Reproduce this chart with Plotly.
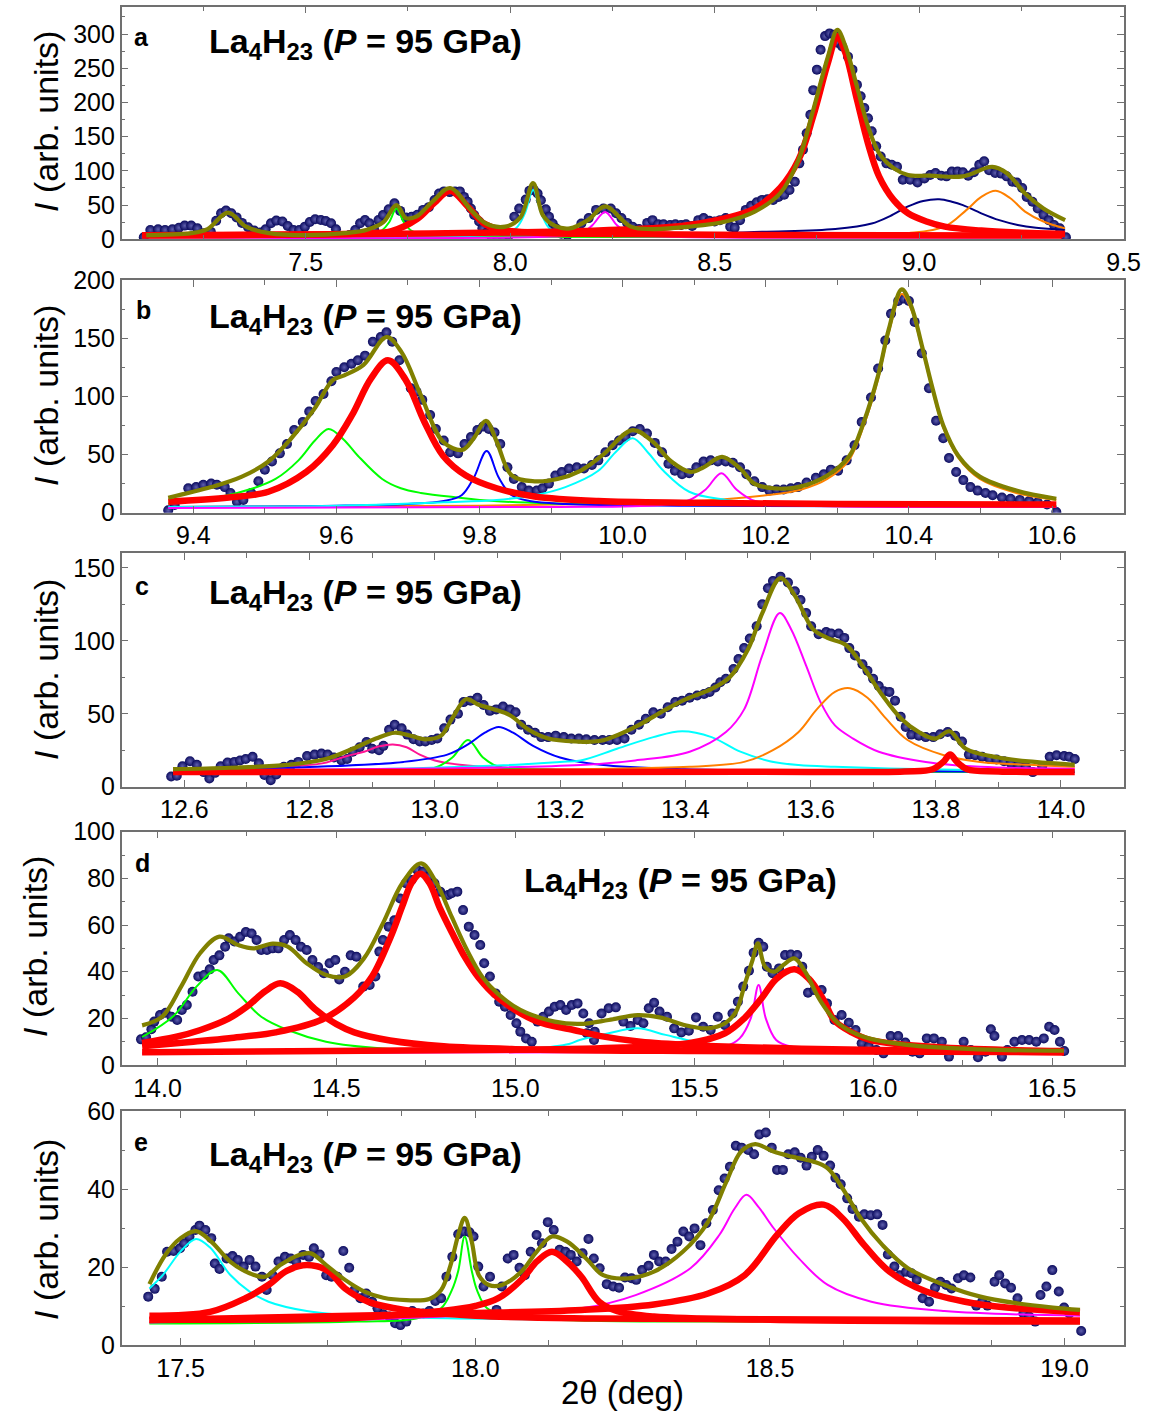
import plotly.graph_objects as go

W, H = 1150, 1416
FONT = "Liberation Sans, Arial, sans-serif"

# ---------------- panel a ----------------
a_pts = [(7.104,3),(7.120,13.7),(7.139,14.6),(7.156,13.7),(7.174,14.6),(7.190,17),(7.204,20),(7.220,20),(7.235,16),(7.251,9),
 (7.268,11),(7.281,27),(7.293,38),(7.305,42),(7.318,38),(7.331,32),(7.344,24),(7.359,17.6),(7.374,12.7),(7.389,9.8),
 (7.402,14.6),(7.415,23.4),(7.428,27.3),(7.443,26),(7.456,19.5),(7.470,13.7),(7.484,13.7),(7.498,18.5),(7.510,25.4),(7.523,29.3),
 (7.537,28.3),(7.549,26.8),(7.562,23.4),(7.574,14.6),(7.582,4),(7.594,3),(7.607,6.3),(7.621,13.7),(7.633,23.4),(7.645,28.3),
 (7.656,23.4),(7.667,14.6),(7.678,28.3),(7.689,35.6),(7.703,44),(7.717,52.7),(7.731,41.5),(7.745,32),(7.759,33),(7.773,36),
 (7.787,43),(7.801,47),(7.815,57.5),(7.826,67),(7.838,70),(7.852,69),(7.865,70),(7.877,70),(7.887,62),(7.896,55),
 (7.904,45),(7.912,35.6),(7.924,26),(7.932,16),(7.941,8.8),(7.955,3),(7.969,3),(7.983,3),(7.997,6),(8.010,33),
 (8.022,45),(8.038,58),(8.047,71),(8.058,72),(8.067,67),(8.075,57),(8.087,44),(8.095,33),(8.104,23),(8.112,16),
 (8.125,8),(8.140,6),(8.156,11),(8.174,23),(8.192,31),(8.210,43),(8.228,45),(8.246,45),(8.259,38),(8.272,31),
 (8.286,24),(8.299,18.5),(8.315,15),(8.335,24),(8.348,28),(8.362,22),(8.375,22),(8.391,21),(8.404,22),(8.418,21),
 (8.430,22),(8.445,19.5),(8.460,28),(8.473,31),(8.487,27),(8.500,26),(8.513,28),(8.527,31),(8.538,18.5),(8.549,17),
 (8.562,28),(8.576,43),(8.589,49),(8.603,54),(8.616,57.6),(8.629,58.5),(8.643,57.6),(8.656,62),(8.670,65),(8.683,72),
 (8.696,84),(8.707,111),(8.716,131),(8.725,155),(8.734,182),(8.741,218),(8.750,248),(8.759,277),(8.770,297),(8.781,301),
 (8.792,299),(8.802,287),(8.812,282),(8.826,267),(8.837,248),(8.848,226),(8.857,209),(8.866,192),(8.875,177),(8.884,158),
 (8.895,136),(8.906,121),(8.920,111),(8.933,109),(8.946,106),(8.960,87),(8.978,87),(8.996,83),(9.013,89),(9.027,94),
 (9.040,97),(9.054,93),(9.067,92),(9.080,99),(9.094,99),(9.107,98),(9.120,93),(9.134,98),(9.147,109),(9.159,114),
 (9.171,101),(9.186,97),(9.201,96),(9.214,92),(9.228,84),(9.239,83),(9.252,75),(9.263,62),(9.277,55),(9.290,45),
 (9.304,36),(9.317,28),(9.330,21),(9.344,16),(9.359,3)]
a_fit = [(7.11,6),(7.22,9),(7.26,15),(7.31,39),(7.354,18.5),(7.41,9),(7.503,6),(7.596,9),(7.65,14),(7.69,25),(7.722,50),
 (7.745,31),(7.77,33),(7.81,55),(7.853,75),(7.904,43),(7.941,23),(7.988,18.5),(8.025,32),(8.056,82),(8.08,35),(8.11,19.5),
 (8.146,16),(8.19,28),(8.232,48),(8.295,18.5),(8.348,15),(8.4375,18.5),(8.527,26),(8.598,40.5),(8.66,67),(8.705,116),
 (8.741,189),(8.777,267),(8.8,306),(8.82,282),(8.848,223),(8.875,165),(8.902,126),(8.9375,104),(8.973,94),(9.027,93),
 (9.107,92),(9.179,106),(9.214,97),(9.259,67),(9.304,45),(9.357,28)]
a_red1 = [(7.10,6),(7.5,7),(7.65,9),(7.71,12),(7.773,30),(7.814,53),(7.853,71),(7.896,48),(7.936,23),(7.977,14),(8.058,9.7),
 (8.173,8),(8.5,6.5),(9.35,5.5)]
a_red2 = [(7.10,6),(7.5,7),(7.8,8.5),(8.0,10),(8.17,12),(8.348,16),(8.4375,21),(8.527,31),(8.598,45),(8.66,75),(8.705,116),
 (8.741,180),(8.777,258),(8.8,297),(8.82,272),(8.848,204),(8.875,140),(8.902,92),(8.9375,57.6),(8.973,38),(9.018,26),
 (9.063,18.5),(9.152,12.7),(9.241,9.8),(9.357,7.8)]
a_green = [(7.10,4),(7.6,4.5),(7.67,6.5),(7.685,12),(7.704,25),(7.722,45),(7.74,25),(7.76,12),(7.8,6.5),(7.9,4.5),(9.35,4)]
a_cyan = [(7.10,4),(7.9,5),(7.98,8),(8.014,16),(8.036,38),(8.056,72),(8.076,38),(8.096,16),(8.13,8),(8.25,5),(9.35,4)]
a_magenta = [(7.10,3),(8.1,4),(8.17,8),(8.2,20),(8.232,40),(8.262,20),(8.29,9),(8.35,5),(9.35,3)]
a_navy = [(7.10,3),(8.0,5),(8.4,7),(8.616,11),(8.795,15),(8.884,23),(8.929,34),(8.973,48),(9.01,56),(9.049,58.5),(9.08,55),
 (9.107,50),(9.152,38),(9.196,28),(9.241,21),(9.286,17),(9.357,14)]
a_orange = [(7.10,3),(8.5,4.5),(8.795,6.3),(8.973,9),(9.0625,18.5),(9.116,43),(9.152,62),(9.1875,71),(9.223,60),(9.259,40.5),
 (9.304,26),(9.357,16)]

# ---------------- panel b ----------------
b_pts = [(9.365,2),(9.374,6.6),(9.393,21),(9.404,22),(9.414,24),(9.425,25),(9.433,24),(9.444,22),(9.452,17),(9.461,9.4),
 (9.470,11),(9.481,17),(9.491,27),(9.500,37),(9.510,44),(9.521,51),(9.531,59),(9.541,71),(9.553,78),(9.562,87),
 (9.571,96),(9.582,102),(9.593,113),(9.600,121),(9.611,125),(9.621,128),(9.630,131),(9.640,135),(9.651,147),(9.662,151),
 (9.670,155),(9.678,147),(9.688,131),(9.704,107),(9.712,104),(9.720,97),(9.731,84),(9.739,72),(9.750,62),(9.759,52),
 (9.770,51),(9.779,59),(9.788,65),(9.797,71),(9.805,74),(9.813,72),(9.821,69),(9.829,59),(9.839,39),(9.848,29),
 (9.859,22),(9.869,19),(9.880,19),(9.888,21),(9.897,25),(9.906,32),(9.915,35),(9.925,38),(9.936,39),(9.946,38),
 (9.957,41),(9.966,45),(9.976,52),(9.986,58),(9.995,62),(10.004,65),(10.014,70),(10.024,72),(10.034,68),(10.045,60),
 (10.055,52),(10.064,42),(10.073,36),(10.083,33),(10.093,34),(10.103,39),(10.113,44),(10.123,45),(10.133,44),(10.144,44),
 (10.154,43),(10.164,39),(10.173,33),(10.184,27),(10.195,22),(10.205,19),(10.215,20),(10.225,20),(10.235,21),(10.245,22),
 (10.257,26),(10.270,30),(10.281,33),(10.291,37),(10.301,36),(10.313,45),(10.324,58),(10.334,78),(10.347,99),(10.357,124),
 (10.367,148),(10.375,171),(10.385,182),(10.393,184),(10.400,182),(10.408,164),(10.418,137),(10.428,107),(10.438,79),(10.448,64),
 (10.456,47),(10.466,35),(10.476,28),(10.486,22),(10.496,19),(10.507,17),(10.517,15),(10.530,13),(10.542,12),(10.555,11),
 (10.568,10),(10.580,9),(10.593,7),(10.606,0.5)]
b_fit = [(9.365,12.9),(9.425,22),(9.468,31),(9.505,44),(9.537,64),(9.569,89),(9.595,114),(9.611,118),(9.638,127),(9.67,151),
 (9.691,138),(9.718,101),(9.749,61),(9.776,54),(9.792,64),(9.809,79),(9.824,61),(9.845,32),(9.877,27),(9.909,29),(9.941,36),
 (9.971,49),(10.014,71),(10.042,61),(10.068,44),(10.095,35),(10.113,39),(10.139,48),(10.164,38),(10.184,25),(10.21,21),
 (10.245,22),(10.286,32),(10.316,48),(10.337,78),(10.357,118),(10.372,158),(10.39,192),(10.403,178),(10.418,144),
 (10.433,107),(10.448,75),(10.469,49),(10.499,31),(10.55,19),(10.606,12)]
b_red = [(9.365,9.4),(9.45,13),(9.505,18),(9.558,35),(9.595,58),(9.622,84),(9.648,115),(9.672,131),(9.696,115),(9.723,78),
 (9.749,49),(9.781,32),(9.824,21),(9.877,14),(9.966,10),(10.1,8.5),(10.3,7.5),(10.606,7)]
b_green = [(9.365,8),(9.44,14),(9.484,21),(9.515,29),(9.547,45),(9.57,62),(9.589,72),(9.61,63),(9.63,49),(9.664,29),(9.69,21),
 (9.718,17),(9.77,13),(9.82,10),(9.9,8),(10.1,6.5),(10.606,5.5)]
b_blue = [(9.365,5),(9.6,6),(9.7,7.5),(9.75,10),(9.775,15),(9.792,30),(9.81,53),(9.827,30),(9.845,15),(9.87,10),(9.92,7.5),
 (10.1,6),(10.606,5)]
b_cyan = [(9.365,5),(9.6,6),(9.75,9),(9.824,11),(9.877,15),(9.92,22),(9.966,36),(9.99,52),(10.014,64),(10.035,52),(10.057,36),
 (10.093,18),(10.144,11),(10.194,8),(10.3,6.5),(10.606,5.5)]
b_magenta = [(9.365,4),(9.9,5),(10.05,6.5),(10.09,10),(10.116,20),(10.138,34),(10.159,20),(10.185,10),(10.25,6.5),(10.606,5)]
b_orange = [(9.365,5),(9.8,6),(10.0,8),(10.1,10),(10.2,15),(10.25,20),(10.286,29),(10.316,45),(10.337,75),(10.357,115),
 (10.372,155),(10.39,188),(10.403,175),(10.418,142),(10.433,105),(10.448,73),(10.469,47),(10.499,29),(10.55,17),(10.606,11)]

# ---------------- panel c ----------------
c_pts = [(12.579,7),(12.588,7.5),(12.597,14),(12.609,17.5),(12.62,15),(12.631,10),(12.64,5.7),(12.649,9.5),(12.658,14),(12.669,16.6),
 (12.68,17),(12.689,18),(12.698,19),(12.709,20.5),(12.719,16),(12.728,8),(12.738,4.5),(12.747,8.4),(12.759,13.6),(12.771,15),
 (12.782,17),(12.796,21),(12.808,22),(12.819,22.7),(12.829,22),(12.839,20),(12.851,18),(12.86,19),(12.869,24),(12.88,27),
 (12.891,30.7),(12.9,26),(12.911,25),(12.918,28),(12.927,39),(12.936,42.5),(12.947,40),(12.956,35.7),(12.966,32.5),(12.976,31),
 (12.985,31),(12.995,32),(13.004,33),(13.015,40),(13.025,46),(13.037,50),(13.046,58),(13.057,59),(13.068,61),(13.078,56),
 (13.088,52),(13.098,53),(13.109,55),(13.12,53),(13.129,51),(13.138,42.5),(13.149,39),(13.16,37),(13.17,34),(13.181,34),
 (13.193,35),(13.206,34),(13.218,33),(13.23,33),(13.242,32.5),(13.255,32),(13.268,32),(13.279,32),(13.291,32),(13.303,33),
 (13.314,39),(13.326,42.5),(13.337,46.6),(13.349,51),(13.361,50),(13.372,54.5),(13.384,58),(13.395,59),(13.407,61),(13.419,62.5),
 (13.43,63.6),(13.439,65),(13.448,68),(13.456,71.6),(13.465,74),(13.477,80.7),(13.485,87.5),(13.494,95),(13.503,101.6),(13.514,110),
 (13.523,125),(13.532,136),(13.54,141),(13.552,144),(13.564,140),(13.575,134),(13.584,128),(13.593,119),(13.601,110),(13.613,104.5),
 (13.625,106),(13.633,105),(13.645,105),(13.654,102),(13.662,95),(13.671,90),(13.683,84),(13.691,79.5),(13.7,74),(13.709,69),
 (13.717,65.5),(13.726,65),(13.735,59),(13.744,48),(13.752,41),(13.761,35.7),(13.773,35),(13.784,34),(13.796,34),(13.807,36),
 (13.819,37.5),(13.831,35),(13.842,31),(13.853,22),(13.863,21.6),(13.874,20.5),(13.886,19),(13.897,18.6),(13.909,17.5),(13.92,16),
 (13.932,15),(13.944,13.6),(13.955,10),(13.97,14),(13.982,20.5),(13.993,21.6),(14.005,21),(14.013,20.5),(14.022,19)]
c_fit = [(12.582,12),(12.673,13),(12.765,15),(12.826,19),(12.869,26),(12.906,33),(12.936,37),(12.961,35),(12.985,32.5),
 (13.01,35),(13.028,47),(13.05,60),(13.071,56),(13.095,53),(13.12,49),(13.15,39),(13.181,33),(13.224,31),(13.265,31.5),
 (13.32,41),(13.361,51),(13.401,60),(13.442,67),(13.471,75),(13.5,94),(13.523,119),(13.552,143),(13.575,131),(13.604,108),
 (13.627,102),(13.657,97),(13.686,81),(13.715,62.5),(13.744,47),(13.773,37.5),(13.799,33),(13.822,38),(13.848,26),(13.9,20),
 (13.958,17),(14.022,15)]
c_red = [(12.582,10),(13.0,10),(13.5,10.2),(13.75,10.5),(13.795,12),(13.812,17),(13.823,22),(13.834,17),(13.85,12),(13.9,10.5),
 (14.022,10)]
c_pink = [(12.582,12),(12.75,13.5),(12.82,16),(12.86,21),(12.887,24),(12.91,27.5),(12.933,29),(12.955,27),(12.976,22),(13.0,18),
 (13.04,15),(13.1,13),(13.2,12),(13.5,11),(14.022,10.5)]
c_green = [(12.582,10),(12.9,11),(13.0,13),(13.028,20),(13.053,32),(13.077,20),(13.1,14),(13.2,11.5),(13.5,10.5),(14.022,10)]
c_blue = [(12.582,11),(12.8,13.5),(12.95,17),(13.02,22),(13.053,29),(13.08,37),(13.102,41),(13.125,37),(13.157,28),(13.2,20),
 (13.265,15),(13.4,12),(13.6,11),(14.022,10)]
c_cyan = [(12.582,11),(12.9,12),(13.1,14.5),(13.2,17),(13.233,18),(13.291,26),(13.349,34),(13.395,38),(13.442,34),(13.488,24),
 (13.535,17.5),(13.581,14.8),(13.639,13.6),(13.726,12.5),(13.85,11.5),(14.022,11)]
c_magenta = [(12.582,11),(13.0,12.5),(13.233,14.8),(13.32,18),(13.407,24),(13.465,37.5),(13.494,53),(13.523,90),(13.551,119),
 (13.569,108),(13.593,83),(13.616,58),(13.639,42),(13.668,33),(13.709,24),(13.784,17),(13.871,13.6),(14.022,12.5)]
c_orange = [(12.582,10.5),(13.0,11),(13.233,12),(13.407,13.6),(13.494,17),(13.54,25),(13.581,37.5),(13.61,53),(13.639,65),
 (13.663,67.5),(13.691,61),(13.72,47),(13.755,32),(13.813,21.6),(13.871,17),(13.95,15),(14.022,13.6)]

# ---------------- panel d ----------------
d_pts = [(13.954,11),(13.968,11.9),(13.983,15.3),(13.991,18.6),(14.007,21.4),(14.023,22.4),(14.039,20.7),(14.055,19.3),(14.068,23.6),
 (14.082,25.7),(14.098,31.4),(14.114,37.9),(14.13,38.6),(14.146,41),(14.157,45),(14.173,47),(14.189,50.7),(14.199,54.3),(14.215,52.9),
 (14.231,55),(14.247,57),(14.263,56.4),(14.277,53.6),(14.29,49.3),(14.306,49.3),(14.322,50),(14.338,50),(14.354,53.6),(14.37,55.7),
 (14.386,53.6),(14.401,50.7),(14.417,49.3),(14.433,45),(14.449,42),(14.465,39.3),(14.481,43.6),(14.497,45),(14.508,36.7),(14.524,40),
 (14.54,47),(14.556,46.4),(14.575,33.6),(14.593,34.3),(14.609,37.9),(14.62,48.6),(14.63,53.6),(14.646,59.3),(14.662,62),(14.678,71.4),
 (14.694,77.9),(14.71,79.3),(14.726,83.6),(14.742,82.9),(14.758,80.7),(14.774,77.9),(14.79,74.3),(14.812,72.9),(14.822,73.6),
 (14.838,74.3),(14.854,66.4),(14.87,59.3),(14.886,55.7),(14.902,51.4),(14.913,43.6),(14.929,37.9),(14.945,30.7),(14.955,27.1),
 (14.971,25),(14.987,21.4),(15.003,17.9),(15.014,14.3),(15.03,11.4),(15.046,10),(15.062,18.6),(15.078,20.7),(15.094,22.9),(15.11,25),
 (15.126,25.7),(15.142,23.6),(15.158,25.7),(15.174,26.4),(15.19,22.1),(15.206,17.9),(15.222,14.3),(15.2,13.6),(15.22,10.7),
 (15.241,22.1),(15.261,24.3),(15.281,24.7),(15.302,18.6),(15.322,16.7),(15.342,19.3),(15.358,17.9),(15.373,24.3),(15.388,26.7),
 (15.403,22.9),(15.424,20.7),(15.444,15.7),(15.464,13.9),(15.485,14.7),(15.505,20.4),(15.525,16.4),(15.546,15),(15.566,20.7),
 (15.586,17.1),(15.607,22.1),(15.622,27.1),(15.637,33.6),(15.653,40.4),(15.666,48.1),(15.68,52.4),(15.693,50.7),(15.703,42.1),
 (15.719,39.3),(15.737,41.4),(15.754,47.1),(15.77,47.4),(15.788,47.1),(15.802,42.1),(15.818,31),(15.836,32.1),(15.856,32.1),
 (15.871,26.4),(15.892,19.3),(15.912,21.4),(15.932,18.1),(15.951,15),(15.968,9.3),(15.988,7.9),(16.009,6.4),(16.029,5),(16.049,12.4),
 (16.07,12.4),(16.09,9.6),(16.11,5.7),(16.13,5),(16.15,11.4),(16.17,11.4),(16.192,10),(16.212,3.6),(16.232,6.4),(16.253,10),
 (16.273,6.4),(16.293,3.3),(16.314,5.7),(16.329,15.3),(16.339,12.4),(16.36,3.6),(16.375,6.4),(16.395,10),(16.416,10.7),(16.436,10.7),
 (16.456,10),(16.477,11.4),(16.492,16.4),(16.507,15),(16.522,10),(16.534,6)]
d_fit = [(13.957,17),(14.013,20.7),(14.066,33.6),(14.119,47.9),(14.173,55),(14.226,51.4),(14.268,50),(14.322,52),(14.364,50.7),
 (14.417,43.6),(14.471,38.6),(14.524,37.9),(14.577,45.7),(14.63,60.7),(14.684,77.9),(14.737,86.4),(14.78,77.9),(14.822,63.6),
 (14.865,49.3),(14.907,37.9),(14.95,30.7),(15.014,23.6),(15.11,18.6),(15.18,17.6),(15.261,19.3),(15.342,21.4),(15.403,20.4),
 (15.485,16.7),(15.536,15.7),(15.586,17.9),(15.617,22.9),(15.642,35),(15.663,45),(15.678,52.1),(15.698,42.1),(15.724,40),
 (15.749,42.9),(15.78,45.7),(15.81,40),(15.851,27.9),(15.902,17.9),(15.973,12.1),(16.095,8.6),(16.299,6.7),(16.533,6.1)]
d_red1 = [(13.957,9.5),(14.05,12),(14.12,15),(14.2,20),(14.25,25),(14.3,31.5),(14.343,35),(14.39,31.5),(14.44,24),(14.5,17.5),
 (14.55,14),(14.65,10.5),(14.8,8),(15.0,6.8),(15.5,6),(16.533,5.5)]
d_red2 = [(13.957,8),(14.1,10),(14.2,11.5),(14.33,14),(14.46,19.5),(14.55,29),(14.6,38),(14.652,55),(14.684,68),(14.71,78),
 (14.735,82),(14.76,78),(14.79,67),(14.822,57),(14.86,46),(14.897,37.5),(14.95,29),(15.056,19),(15.163,15),(15.235,12.5),
 (15.35,10),(15.5,8.5),(15.8,7),(16.2,6),(16.533,5.5)]
d_red3 = [(13.957,5.5),(15.0,6.5),(15.3,7.5),(15.485,9.3),(15.586,13.6),(15.64,20),(15.69,29),(15.73,37),(15.78,41),(15.82,37),
 (15.861,28),(15.892,19),(15.94,14),(15.993,10.7),(16.197,7.5),(16.533,6)]
d_green = [(13.957,12),(14.045,21),(14.109,33.6),(14.167,40.7),(14.226,30.7),(14.29,20.7),(14.364,15),(14.471,10),(14.63,7.1),
 (14.95,6.1),(15.3,5.8),(16.533,5.3)]
d_cyan = [(13.957,5),(14.6,5.5),(14.9,6),(15.05,7),(15.15,9),(15.18,10.7),(15.261,13.6),(15.342,15.7),(15.42,12.9),(15.505,10),
 (15.607,7.9),(15.79,6.7),(16.1,6),(16.533,5.5)]
d_magenta = [(13.957,5),(15.2,5.5),(15.485,6.4),(15.586,7.9),(15.627,11.4),(15.658,20),(15.68,34.3),(15.7,20),(15.729,10.7),
 (15.77,7.9),(15.9,6.5),(16.533,5.5)]

# ---------------- panel e ----------------
e_pts = [(17.445,12.4),(17.456,14.4),(17.468,17.5),(17.477,23.9),(17.488,24.1),(17.499,24.8),(17.506,26.1),(17.515,27.8),(17.525,29.5),
 (17.532,30.6),(17.542,29.5),(17.552,27.4),(17.558,20.9),(17.566,19.5),(17.578,22.2),(17.588,22.8),(17.597,21.8),(17.607,20.1),
 (17.617,21.8),(17.627,20.1),(17.638,17.5),(17.646,14.1),(17.656,17.9),(17.666,21.4),(17.677,22.6),(17.687,22.2),(17.696,21.4),
 (17.708,23.1),(17.718,22.6),(17.726,24.8),(17.736,23.2),(17.747,17.9),(17.756,17.5),(17.766,17.5),(17.776,24.1),(17.786,19.8),
 (17.795,14.1),(17.805,12),(17.815,13.2),(17.825,11.1),(17.834,9.4),(17.844,7.9),(17.854,7.3),(17.864,5.6),(17.873,5.1),(17.883,6),
 (17.893,8.7),(17.903,8.1),(17.912,8.1),(17.922,8.7),(17.932,11.3),(17.942,12),(17.951,17.5),(17.961,22.6),(17.971,28.4),(17.981,29.1),
 (17.99,28.9),(17.997,27.8),(18.005,20.1),(18.014,15),(18.025,17.5),(18.036,9),(18.045,15),(18.055,22.2),(18.065,23.1),(18.075,19.8),
 (18.084,17.9),(18.094,23.9),(18.104,28.2),(18.113,26.1),(18.123,31.5),(18.133,29.5),(18.143,24.4),(18.153,23.9),(18.162,23.1),
 (18.172,21.4),(18.182,23.5),(18.192,27.2),(18.201,22.2),(18.211,19.7),(18.223,15.6),(18.234,15),(18.244,14.7),(18.254,17.3),
 (18.265,17.1),(18.273,16.7),(18.283,19.2),(18.294,20.3),(18.303,23.1),(18.312,21.4),(18.323,21.4),(18.333,24.6),(18.343,26.5),
 (18.353,29.1),(18.363,27.8),(18.372,29.9),(18.382,25.6),(18.392,31.2),(18.403,34.6),(18.413,39.7),(18.423,42.7),(18.432,45.7),
 (18.442,51.1),(18.452,50.6),(18.463,50),(18.473,48.9),(18.482,54),(18.493,54.5),(18.503,50.6),(18.512,44.9),(18.522,44.9),
 (18.531,48.9),(18.542,49.4),(18.552,48),(18.562,46),(18.571,48.3),(18.581,50),(18.591,48.5),(18.602,46),(18.611,42.9),(18.62,41.2),
 (18.631,37.6),(18.64,34.9),(18.651,32.9),(18.66,33.5),(18.671,33.3),(18.682,33.5),(18.691,30.8),(18.7,23.2),(18.711,20.1),(18.72,17.9),
 (18.731,18.8),(18.74,18.4),(18.749,16.7),(18.759,12),(18.77,11.1),(18.78,14.7),(18.789,16.2),(18.799,15.4),(18.808,14.5),(18.819,17.1),
 (18.829,17.9),(18.84,17.3),(18.85,10.1),(18.86,11.1),(18.869,10.1),(18.881,16.2),(18.889,17.9),(18.899,15.8),(18.909,14.7),(18.92,12),
 (18.93,8.1),(18.94,7.3),(18.95,6),(18.959,12.8),(18.969,15),(18.979,19.2),(18.99,13.7),(18.999,9.6),(19.008,8.1),(19.028,3.6)]
e_fit = [(17.447,15.6),(17.474,23.1),(17.5,27.4),(17.526,29.2),(17.552,26.5),(17.584,21.4),(17.617,18.4),(17.643,17.5),(17.669,20.5),
 (17.701,23.1),(17.721,23.5),(17.747,20.5),(17.779,16.7),(17.812,13.7),(17.844,12.1),(17.883,11.5),(17.922,11.8),(17.942,14.1),
 (17.958,20.5),(17.971,28.2),(17.982,32.6),(17.994,26.5),(18.006,17.9),(18.023,15.4),(18.045,15.4),(18.078,18.8),(18.104,23.9),
 (18.13,27.8),(18.156,26.5),(18.188,22.2),(18.217,17.9),(18.26,17.1),(18.303,18.8),(18.352,23.9),(18.395,31.6),(18.426,41.9),
 (18.451,49.6),(18.475,51.5),(18.506,49.6),(18.537,48.3),(18.574,47),(18.598,45.3),(18.623,40.2),(18.654,32.5),(18.691,25.6),
 (18.734,19.7),(18.796,15.4),(18.857,12.4),(18.919,10.7),(18.98,9.6),(19.026,9)]
e_red1 = [(17.447,7.5),(17.55,8.5),(17.61,12),(17.65,15.5),(17.68,19),(17.714,20.5),(17.75,19),(17.779,14.5),(17.82,11),(17.88,9),
 (18.0,7.5),(18.2,6.8),(19.026,6.3)]
e_red2 = [(17.447,6.5),(17.8,7),(17.942,8.7),(18.0,10),(18.039,12),(18.08,17),(18.105,21.5),(18.13,23.9),(18.155,21.5),(18.18,17.5),
 (18.21,11.1),(18.241,8.7),(18.303,7.3),(18.5,6.5),(19.026,6)]
e_red3 = [(17.447,6.4),(17.974,8.1),(18.18,9),(18.303,10.4),(18.395,13.2),(18.457,17.9),(18.512,28.2),(18.549,33.8),(18.591,36),
 (18.623,32.5),(18.66,25.6),(18.703,18.8),(18.765,13.7),(18.857,10.4),(19.026,8.4)]
e_cyan = [(17.447,14.5),(17.47,18),(17.5,24),(17.526,27.2),(17.55,25),(17.584,18),(17.617,13.7),(17.649,11.1),(17.714,8.7),
 (17.779,7.7),(17.909,7),(18.2,6.5),(19.026,6)]
e_green = [(17.447,5.5),(17.8,6),(17.9,6.8),(17.942,9.4),(17.96,14),(17.971,19),(17.982,27.8),(17.994,19),(18.003,14),(18.02,9.4),
 (18.06,7.3),(18.2,6.2),(18.5,6),(19.026,5.6)]
e_magenta = [(17.447,5.8),(17.8,6.5),(18.0,7.7),(18.18,9.4),(18.272,12.8),(18.365,19.7),(18.414,28.2),(18.44,35),(18.46,38.5),
 (18.48,35.5),(18.506,30),(18.549,22.2),(18.598,15.4),(18.672,11.1),(18.796,8.7),(19.026,7.5)]

# ---------------- styling ----------------
COL = dict(fit="#808000", red="#ff0000", green="#00ff00", cyan="#00ffff", magenta="#ff00ff",
           navy="#000080", orange="#ff8000", blue="#0000ff", pink="#ff1493")

panels = [
    dict(tag="a", pts=a_pts, fit=a_fit, reds=[a_red1, a_red2],
         thin=[("navy", a_navy), ("orange", a_orange), ("green", a_green), ("cyan", a_cyan), ("magenta", a_magenta)],
         xr=[7.05, 9.5], yr=[0, 340], dx=0.5, mx=0.25, dy=50, my=25, top=6.7, bot=239.3,
         title=(207, 44), letter=(141, 37), ytitle=(46, 122)),
    dict(tag="b", pts=b_pts, fit=b_fit, reds=[b_red],
         thin=[("orange", b_orange), ("green", b_green), ("blue", b_blue), ("cyan", b_cyan), ("magenta", b_magenta)],
         xr=[9.3, 10.7], yr=[0, 200], dx=0.2, mx=0.1, dy=50, my=25, top=280, bot=512.7,
         title=(207, 318), letter=(143, 310), ytitle=(46, 396)),
    dict(tag="c", pts=c_pts, fit=c_fit, reds=[c_red],
         thin=[("pink", c_pink), ("green", c_green), ("blue", c_blue), ("cyan", c_cyan), ("magenta", c_magenta), ("orange", c_orange)],
         xr=[12.5, 14.1], yr=[0, 160], dx=0.2, mx=0.1, dy=50, my=25, top=553.3, bot=786.7,
         title=(207, 594), letter=(142, 586), ytitle=(46, 670)),
    dict(tag="d", pts=d_pts, fit=d_fit, reds=[d_red1, d_red2, d_red3],
         thin=[("green", d_green), ("cyan", d_cyan), ("magenta", d_magenta)],
         xr=[13.9, 16.7], yr=[0, 100], dx=0.5, mx=0.25, dy=20, my=10, top=831.7, bot=1065,
         title=(522, 882), letter=(142, 863), ytitle=(35, 947)),
    dict(tag="e", pts=e_pts, fit=e_fit, reds=[e_red1, e_red2, e_red3],
         thin=[("cyan", e_cyan), ("green", e_green), ("magenta", e_magenta)],
         xr=[17.4, 19.1], yr=[0, 60], dx=0.5, mx=0.125, dy=20, my=10, top=1111, bot=1345,
         title=(207, 1156), letter=(141, 1142), ytitle=(46, 1230)),
]

XL, XR = 121.7, 1123.6
FRAME = "#707070"

fig = go.Figure()
layout = dict(width=W, height=H, margin=dict(l=0, r=0, t=0, b=0, pad=0, autoexpand=False),
              plot_bgcolor="white", paper_bgcolor="white", showlegend=False,
              font=dict(family=FONT, color="black"))
annotations = []


def xs(c):
    return [p[0] for p in c]


def ys(c):
    return [p[1] for p in c]


for i, p in enumerate(panels):
    n = "" if i == 0 else str(i + 1)
    xa, ya = "x" + n, "y" + n
    # measured points (drawn first, curves on top)
    fig.add_trace(go.Scatter(x=xs(p["pts"]), y=ys(p["pts"]), mode="markers", xaxis=xa, yaxis=ya,
                             marker=dict(size=10, color="#0b0b5e",
                                         gradient=dict(type="radial", color="#5f5fae"),
                                         line=dict(width=0))))
    for cname, c in p["thin"]:
        fig.add_trace(go.Scatter(x=xs(c), y=ys(c), mode="lines", xaxis=xa, yaxis=ya,
                                 line=dict(color=COL[cname], width=2, shape="spline", smoothing=1.0)))
    for c in p["reds"]:
        fig.add_trace(go.Scatter(x=xs(c), y=ys(c), mode="lines", xaxis=xa, yaxis=ya,
                                 line=dict(color=COL["red"], width=6.5, shape="spline", smoothing=1.0)))
    fig.add_trace(go.Scatter(x=xs(p["fit"]), y=ys(p["fit"]), mode="lines", xaxis=xa, yaxis=ya,
                             line=dict(color=COL["fit"], width=4.2, shape="spline", smoothing=1.0)))

    common = dict(showline=True, linecolor=FRAME, linewidth=1.5, mirror="allticks",
                  ticks="inside", ticklen=7, tickwidth=1, tickcolor=FRAME,
                  showgrid=False, zeroline=False, tick0=0, automargin=False,
                  tickfont=dict(family=FONT, size=25, color="black"))
    layout["xaxis" + n] = dict(common, range=p["xr"], dtick=p["dx"], tickformat=".1f",
                               domain=[XL / W, XR / W], anchor=ya,
                               minor=dict(dtick=p["mx"], tick0=0, ticks="inside", ticklen=5,
                                          tickcolor=FRAME, showgrid=False))
    layout["yaxis" + n] = dict(common, range=p["yr"], dtick=p["dy"],
                               domain=[1 - p["bot"] / H, 1 - p["top"] / H], anchor=xa,
                               minor=dict(dtick=p["my"], tick0=0, ticks="inside", ticklen=4,
                                          tickcolor=FRAME, showgrid=False))
    tx, ty = p["title"]
    annotations.append(dict(x=tx / W, y=1 - ty / H, xref="paper", yref="paper", xanchor="left", yanchor="middle",
                            text="<b>La<sub>4</sub>H<sub>23</sub> (<i>P</i> = 95 GPa)</b>", showarrow=False,
                            font=dict(family=FONT, size=34, color="black")))
    lx, ly = p["letter"]
    annotations.append(dict(x=lx / W, y=1 - ly / H, xref="paper", yref="paper", xanchor="center", yanchor="middle",
                            text="<b>%s</b>" % p["tag"], showarrow=False,
                            font=dict(family=FONT, size=25, color="black")))
    yx, yy = p["ytitle"]
    annotations.append(dict(x=yx / W, y=1 - yy / H, xref="paper", yref="paper", xanchor="center", yanchor="middle",
                            text="<i>I</i> (arb. units)", textangle=-90, showarrow=False,
                            font=dict(family=FONT, size=34, color="black")))

annotations.append(dict(x=622 / W, y=1 - 1392 / H, xref="paper", yref="paper", xanchor="center", yanchor="middle",
                        text="2θ (deg)", showarrow=False, font=dict(family=FONT, size=33, color="black")))
layout["annotations"] = annotations
fig.update_layout(**layout)

# pin the figure to the page origin so the 1150x1416 window shows it unscaled
pin = ("document.documentElement.style.margin='0';document.body.style.margin='0';"
       "document.body.style.overflow='hidden';"
       "var g=document.getElementById('{plot_id}');g.style.position='absolute';"
       "g.style.left='0px';g.style.top='0px';")
fig.write_html("out.html", post_script=pin, config={"displayModeBar": False})
